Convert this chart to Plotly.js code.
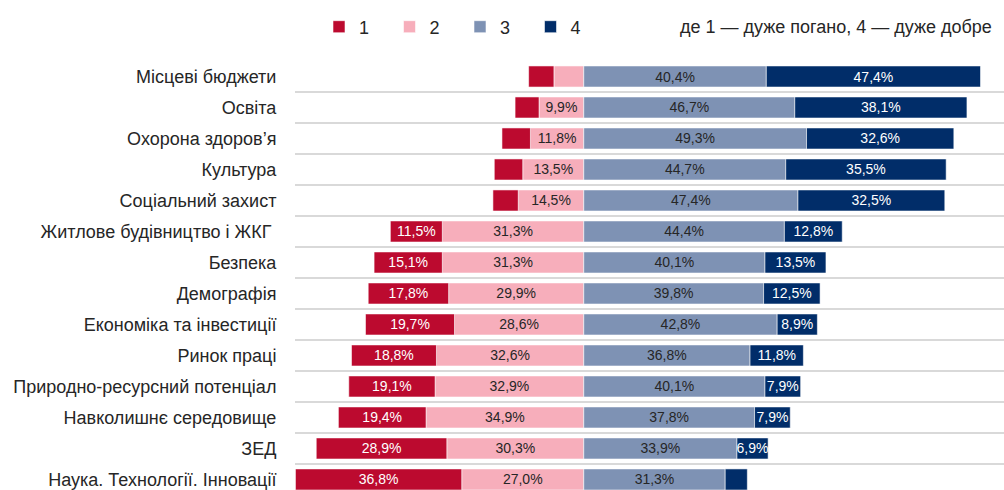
<!DOCTYPE html>
<html>
<head>
<meta charset="utf-8">
<script src="https://cdn.plot.ly/plotly-3.0.1.min.js"></script>
<style>
  html, body { margin: 0; padding: 0; background: #fff; }
  #chart { width: 1004px; height: 490px; }
</style>
</head>
<body>
<div id="chart"></div>
<script>
const categories = [
    'Місцеві бюджети',
    'Освіта',
    'Охорона здоров’я',
    'Культура',
    'Соціальний захист',
    'Житлове будівництво і ЖКГ ',
    'Безпека',
    'Демографія',
    'Економіка та інвестиції',
    'Ринок праці',
    'Природно-ресурсний потенціал',
    'Навколишнє середовище',
    'ЗЕД',
    'Наука. Технології. Інновації'
];

// share of answers, % (1 - very bad ... 4 - very good)
const score1 = [5.6, 5.3, 6.3, 6.3, 5.6, 11.5, 15.1, 17.8, 19.7, 18.8, 19.1, 19.4, 28.9, 36.8];
const score2 = [6.6, 9.9, 11.8, 13.5, 14.5, 31.3, 31.3, 29.9, 28.6, 32.6, 32.9, 34.9, 30.3, 27.0];
const score3 = [40.4, 46.7, 49.3, 44.7, 47.4, 44.4, 40.1, 39.8, 42.8, 36.8, 40.1, 37.8, 33.9, 31.3];
const score4 = [47.4, 38.1, 32.6, 35.5, 32.5, 12.8, 13.5, 12.5, 8.9, 11.8, 7.9, 7.9, 6.9, 4.9];

const colors = ['#bc0a2f', '#f7aebb', '#7e92b4', '#012d69'];
const labelColors = ['#ffffff', '#262626', '#262626', '#ffffff'];

const fmt = v => v >= 6.8 ? v.toFixed(1).replace('.', ',') + '%' : '';
const rows = categories.map((_, i) => i);

function makeTrace(name, values, k, negative) {
    return {
        type: 'bar',
        orientation: 'h',
        name: name,
        legendrank: k + 1,
        y: rows,
        x: values.map(v => negative ? -v : v),
        text: values.map(fmt),
        textposition: 'inside',
        insidetextanchor: 'middle',
        constraintext: 'none',
        textangle: 0,
        textfont: { family: 'Liberation Sans, Arial, sans-serif', size: 14, color: labelColors[k] },
        marker: { color: colors[k], line: { color: 'rgba(255,255,255,0.7)', width: 0.8 } },
        width: 0.68,
        hoverinfo: 'skip'
    };
}

// negatives stack from zero outward in trace order, so "2" goes first
const data = [
    makeTrace('2', score2, 1, true),
    makeTrace('1', score1, 0, true),
    makeTrace('3', score3, 2, false),
    makeTrace('4', score4, 3, false)
];

const legendY = 1 + (61 - 27) / 429;

const layout = {
    width: 1004,
    height: 490,
    margin: { l: 295, r: 0, t: 61, b: 0 },
    paper_bgcolor: '#ffffff',
    plot_bgcolor: '#ffffff',
    barmode: 'relative',
    bargap: 0.32,
    font: { family: 'Liberation Sans, Arial, sans-serif', color: '#262626' },
    xaxis: {
        range: [-63.9, 93.0],
        showgrid: false,
        zeroline: false,
        showticklabels: false,
        fixedrange: true
    },
    yaxis: {
        range: [13.34, -0.5],
        tickmode: 'array',
        tickvals: rows,
        ticktext: categories,
        showgrid: false,
        zeroline: false,
        ticks: 'outside',
        ticklen: 14,
        tickcolor: 'rgba(0,0,0,0)',
        tickfont: { size: 18, color: '#262626' },
        minor: { showgrid: true, tick0: 0.5, dtick: 1, gridcolor: '#d9d9d9', gridwidth: 2 },
        fixedrange: true
    },
    showlegend: true,
    legend: {
        orientation: 'h',
        x: (319 - 295) / 709,
        y: legendY,
        xanchor: 'left',
        yanchor: 'middle',
        entrywidth: 25.5,
        itemwidth: 30,
        font: { size: 18, color: '#262626' },
        bgcolor: 'rgba(0,0,0,0)'
    },
    annotations: [{
        xref: 'paper',
        yref: 'paper',
        x: 1,
        y: legendY,
        xanchor: 'right',
        yanchor: 'middle',
        xshift: -10,
        showarrow: false,
        text: 'де 1 — дуже погано, 4 — дуже добре',
        font: { size: 18, color: '#262626' }
    }]
};

Plotly.newPlot('chart', data, layout, { displayModeBar: false, staticPlot: true });
</script>
</body>
</html>
